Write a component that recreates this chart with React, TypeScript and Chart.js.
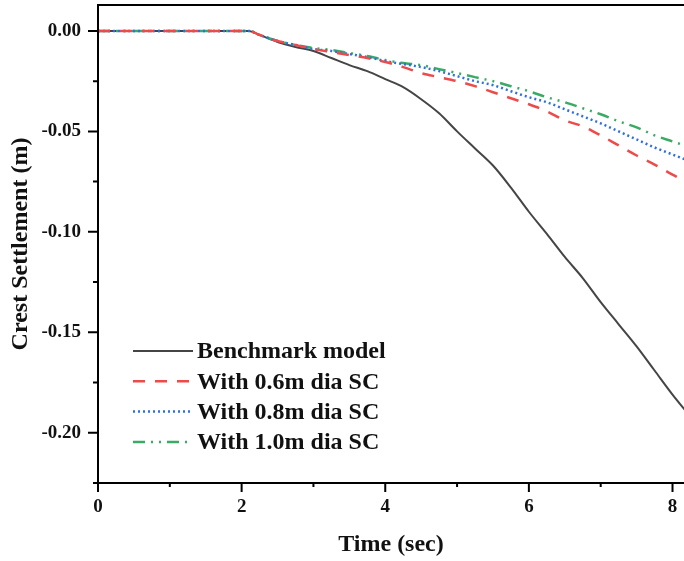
import React, { useEffect, useRef } from "react";
import { Chart, registerables } from "chart.js";

Chart.register(...registerables);

const timeSec = [0, 1, 2, 2.1, 2.25, 2.5, 2.75, 3.0, 3.25, 3.5, 3.75, 4.0, 4.25, 4.5, 4.75, 5.0, 5.25, 5.5, 5.75, 6.0, 6.25, 6.5, 6.75, 7.0, 7.25, 7.5, 7.75, 8.0, 8.25];

const benchmark = [0, 0, 0, 0, -0.002, -0.0055, -0.008, -0.010, -0.0135, -0.017, -0.020, -0.024, -0.028, -0.034, -0.041, -0.050, -0.0585, -0.067, -0.078, -0.090, -0.101, -0.1125, -0.123, -0.135, -0.146, -0.157, -0.169, -0.181, -0.192];
const sc06 = [0, 0, 0, 0, -0.002, -0.005, -0.007, -0.009, -0.0105, -0.012, -0.0135, -0.0155, -0.018, -0.021, -0.023, -0.025, -0.0275, -0.0305, -0.0335, -0.0365, -0.040, -0.0445, -0.0475, -0.052, -0.057, -0.062, -0.0665, -0.0715, -0.076];
const sc08 = [0, 0, 0, 0, -0.002, -0.005, -0.007, -0.009, -0.010, -0.0115, -0.013, -0.015, -0.0165, -0.018, -0.020, -0.0225, -0.025, -0.027, -0.030, -0.033, -0.0355, -0.039, -0.0425, -0.046, -0.050, -0.054, -0.058, -0.0615, -0.065];
const sc10 = [0, 0, 0, 0, -0.002, -0.005, -0.007, -0.0085, -0.0095, -0.011, -0.0125, -0.0145, -0.016, -0.017, -0.019, -0.021, -0.023, -0.025, -0.0275, -0.030, -0.033, -0.0355, -0.0385, -0.0415, -0.045, -0.048, -0.052, -0.055, -0.058];

const seriesLabels = ["Benchmark model", "With 0.6m dia SC", "With 0.8m dia SC", "With 1.0m dia SC"];

const X_MIN = 0;
const X_MAX = 8.16;
const X_STEP = 2;
const Y_MIN = -0.225;
const Y_MAX = 0.0129;
const Y_STEP = 0.05;

const FONT = '"Liberation Serif", "Times New Roman", serif';

const framePlugin = {
  id: "frame",
  afterDraw(chart: any) {
    const { ctx, chartArea: a, scales } = chart;
    const x = scales.x;
    const y = scales.y;
    ctx.save();
    ctx.strokeStyle = "#000";
    ctx.lineWidth = 2;
    ctx.lineCap = "butt";
    ctx.beginPath();
    ctx.moveTo(a.left - 1, a.top);
    ctx.lineTo(a.right, a.top);
    ctx.moveTo(a.left, a.top);
    ctx.lineTo(a.left, a.bottom);
    ctx.moveTo(a.left - 1, a.bottom);
    ctx.lineTo(a.right, a.bottom);
    y.ticks.forEach((t: any) => {
      const p = y.getPixelForValue(t.value);
      ctx.moveTo(a.left - 10, p);
      ctx.lineTo(a.left, p);
      const m = t.value - Y_STEP / 2;
      if (m >= Y_MIN) {
        const pm = y.getPixelForValue(m);
        ctx.moveTo(a.left - 5, pm);
        ctx.lineTo(a.left, pm);
      }
    });
    x.ticks.forEach((t: any) => {
      const p = x.getPixelForValue(t.value);
      ctx.moveTo(p, a.bottom);
      ctx.lineTo(p, a.bottom + 9);
      const m = t.value + X_STEP / 2;
      if (m <= X_MAX) {
        const pm = x.getPixelForValue(m);
        ctx.moveTo(pm, a.bottom);
        ctx.lineTo(pm, a.bottom + 4);
      }
    });
    ctx.stroke();
    ctx.restore();
  },
};

const legendPlugin = {
  id: "innerLegend",
  afterDatasetsDraw(chart: any) {
    const { ctx } = chart;
    const x0 = 133;
    const x1 = 193;
    const y0 = 351;
    const gap = 30.3;
    ctx.save();
    chart.data.datasets.forEach((ds: any, i: number) => {
      const yy = y0 + i * gap;
      ctx.beginPath();
      ctx.strokeStyle = ds.borderColor;
      ctx.lineWidth = ds.borderWidth;
      ctx.setLineDash(ds.borderDash || []);
      ctx.lineCap = ds.borderCapStyle || "butt";
      ctx.moveTo(x0, yy);
      ctx.lineTo(x1, yy);
      ctx.stroke();
      ctx.setLineDash([]);
      ctx.fillStyle = "#111";
      ctx.font = `bold 24px ${FONT}`;
      ctx.textBaseline = "middle";
      ctx.textAlign = "left";
      ctx.fillText(ds.label, 197, yy + 1);
    });
    ctx.restore();
  },
};

const zeroPad = (s: any) => {
  s.paddingTop = 0;
  s.paddingBottom = 0;
  s.paddingLeft = 0;
  s.paddingRight = 0;
};

export default function App() {
  const ref = useRef<HTMLCanvasElement | null>(null);
  useEffect(() => {
    if (!ref.current) return;
    const mk = (arr: number[]) => timeSec.map((t, i) => ({ x: t, y: arr[i] }));
    const chart = new Chart(ref.current, {
      type: "line",
      data: {
        datasets: [
          { label: seriesLabels[0], data: mk(benchmark), borderColor: "#454545", borderWidth: 2, pointRadius: 0, order: 4, cubicInterpolationMode: "monotone" },
          { label: seriesLabels[1], data: mk(sc06), borderColor: "#ef4a4a", borderWidth: 2.5, borderDash: [12, 10], pointRadius: 0, order: 1, cubicInterpolationMode: "monotone" },
          { label: seriesLabels[2], data: mk(sc08), borderColor: "#2f6fe0", borderWidth: 2.5, borderDash: [2, 3], pointRadius: 0, order: 2, cubicInterpolationMode: "monotone" },
          { label: seriesLabels[3], data: mk(sc10), borderColor: "#3aab64", borderWidth: 2.5, borderDash: [12, 6, 2, 6, 2, 6], pointRadius: 0, order: 3, cubicInterpolationMode: "monotone" },
        ] as any,
      },
      options: {
        animation: false,
        responsive: false,
        layout: { padding: { top: 5, left: 0, right: 0, bottom: 0 } },
        plugins: { legend: { display: false }, tooltip: { enabled: false } },
        scales: {
          x: {
            type: "linear",
            min: X_MIN,
            max: X_MAX,
            grid: { display: false, drawTicks: false },
            border: { display: false },
            ticks: { stepSize: X_STEP, includeBounds: false, padding: 13, color: "#111", font: { family: FONT, size: 19, weight: "bold" }, maxRotation: 0 },
            title: { display: true, text: "Time (sec)", color: "#111", font: { family: FONT, size: 24, weight: "bold" }, padding: { top: 0, bottom: 2 } },
            afterFit: (s: any) => { s.height = 78; zeroPad(s); },
          },
          y: {
            type: "linear",
            min: Y_MIN,
            max: Y_MAX,
            grid: { display: false, drawTicks: false },
            border: { display: false },
            ticks: { stepSize: Y_STEP, includeBounds: false, padding: 17, color: "#111", font: { family: FONT, size: 19, weight: "bold" }, callback: (v: any) => Number(v).toFixed(2) },
            title: { display: true, text: "Crest Settlement (m)", color: "#111", font: { family: FONT, size: 24, weight: "bold" }, padding: { top: 6, bottom: 0 } },
            afterFit: (s: any) => { s.width = 98; zeroPad(s); },
          },
        },
      } as any,
      plugins: [framePlugin, legendPlugin],
    });
    return () => chart.destroy();
  }, []);
  return (
    <div style={{ position: "fixed", left: 0, top: 0, width: 684, height: 561, background: "#fff" }}>
      <canvas ref={ref} width={684} height={561} style={{ display: "block" }} />
    </div>
  );
}
